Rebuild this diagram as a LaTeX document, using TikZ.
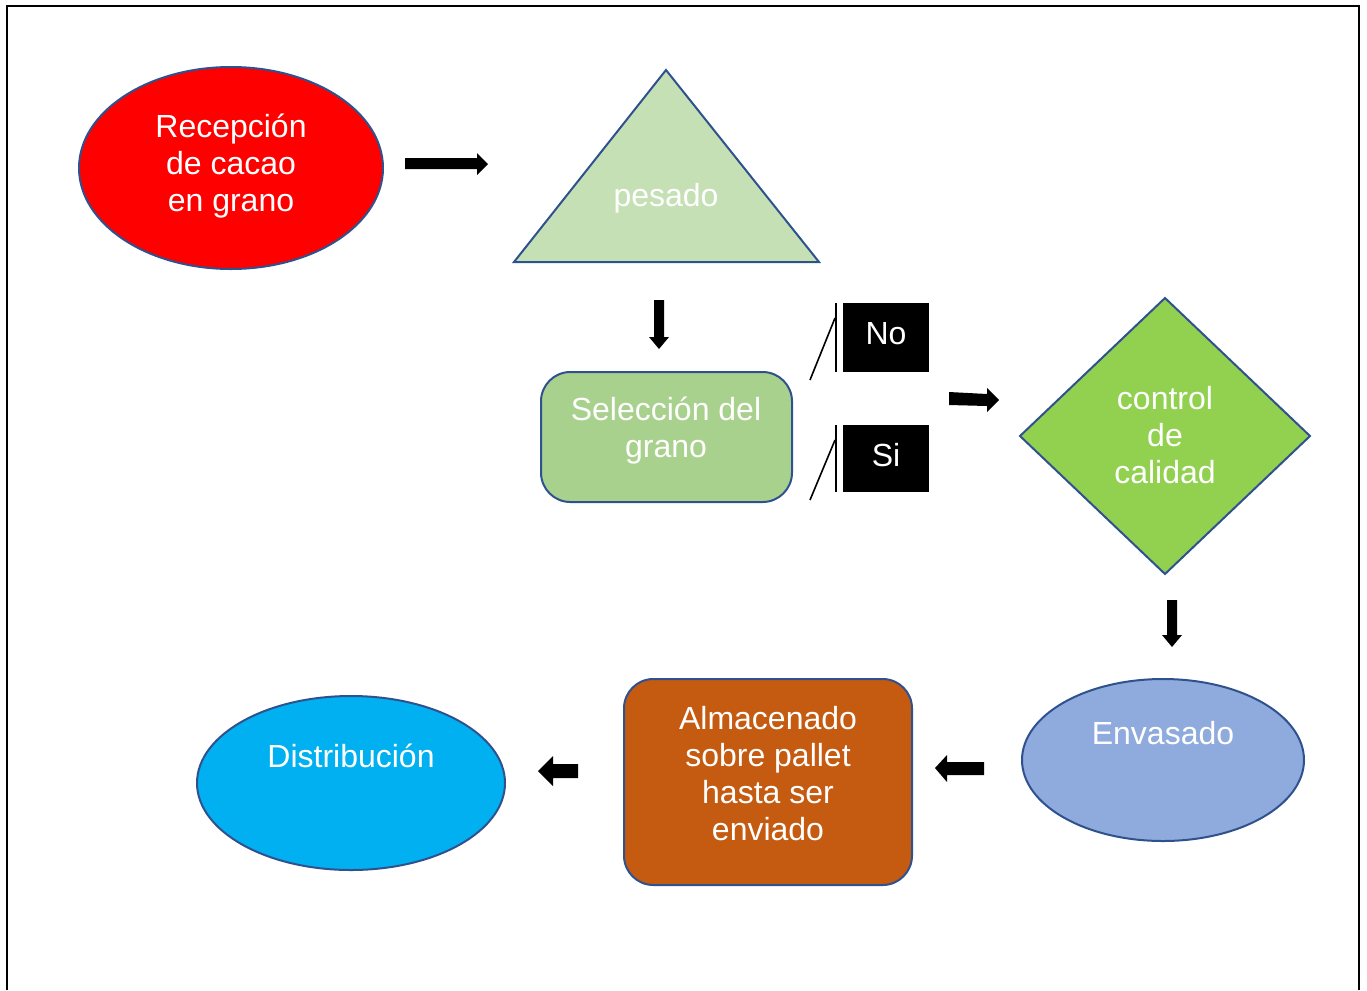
\documentclass[tikz,border=0pt]{standalone}
\usepackage{fontspec}
\setmainfont{Liberation Sans}
\usetikzlibrary{shapes.geometric}
\definecolor{bord}{HTML}{2F528F}
\definecolor{tri}{HTML}{C5E0B4}
\definecolor{sel}{HTML}{A9D18E}
\definecolor{dia}{HTML}{92D050}
\definecolor{env}{HTML}{8FAADC}
\definecolor{alm}{HTML}{C55A11}
\definecolor{dis}{HTML}{00B0F0}
\tikzset{
  shp/.style={draw=bord, line width=1.5pt},
  txt/.style={text=white, font=\fontsize{24}{27.75}\selectfont, align=center, inner sep=0pt},
  blk/.style={fill=black, draw=none},
  tag/.style={fill=black, draw=none},
  tagtxt/.style={text=white, font=\fontsize{24}{27.75}\selectfont, inner sep=0pt},
}
\begin{document}
\begin{tikzpicture}[x=0.75pt, y=-0.75pt]
\useasboundingbox (0,0) rectangle (1367,990);
% frame
\draw[line width=1.5pt] (7,990) -- (7,6) -- (1359,6) -- (1359,990);

% shapes
\draw[shp, fill=red] (231,168) ellipse [x radius=152, y radius=101];
\node[txt] (rec) at (231,166) {Recepción\\de cacao\\en grano};

\draw[shp, fill=tri] (666,70) -- (819,262) -- (514,262) -- cycle;
\node[txt] (pes) at (666,198) {pesado};

\draw[shp, fill=sel, rounded corners=22pt] (541,372) rectangle (792,502);
\node[txt] (selg) at (666,431) {Selección del\\grano};

\draw[shp, fill=dia] (1165,298) -- (1310,436) -- (1165,574) -- (1020,436) -- cycle;
\node[txt] (ctl) at (1165,435) {control\\de\\calidad};

\draw[shp, fill=env] (1163,760) ellipse [x radius=141, y radius=81];
\node[txt] (envs) at (1163,733) {Envasado};

\draw[shp, fill=alm, rounded corners=22pt] (624,679) rectangle (912,885);
\node[txt] (almc) at (768,774) {Almacenado\\sobre pallet\\hasta ser\\enviado};

\draw[shp, fill=dis] (351,783) ellipse [x radius=154, y radius=87];
\node[txt] (dist) at (351,756) {Distribución};

% No / Si callouts
\fill[tag] (843,303) rectangle (929,372);
\node[tagtxt] (no) at (886,334) {No};
\fill[tag] (843,425) rectangle (929,492);
\node[tagtxt] (si) at (886,455) {Si};
\draw[line width=1.2pt] (836,303) -- (836,372);
\draw[line width=1.2pt] (810,380) -- (835,318);
\draw[line width=1.2pt] (836,425) -- (836,492);
\draw[line width=1.2pt] (810,500) -- (835,440);

% block arrows
\fill[blk] (405,158) -- (477,158) -- (477,153) -- (488,164) -- (477,175) -- (477,169) -- (405,169) -- cycle;
\fill[blk] (654,300) -- (664,300) -- (664,337) -- (669,337) -- (659,349) -- (649,337) -- (654,337) -- cycle;
\fill[blk] (949,392) -- (987,394) -- (987,388) -- (999,400) -- (987,412) -- (987,406) -- (949,405) -- cycle;
\fill[blk] (1167,600) -- (1177,600) -- (1177,635) -- (1182,635) -- (1172,647) -- (1162,635) -- (1167,635) -- cycle;
\fill[blk] (984,762) -- (947,762) -- (947,755) -- (935,768) -- (947,782) -- (947,775) -- (984,775) -- cycle;
\fill[blk] (578,764) -- (553,764) -- (553,756) -- (538,771) -- (553,786) -- (553,778) -- (578,778) -- cycle;
\end{tikzpicture}
\end{document}
